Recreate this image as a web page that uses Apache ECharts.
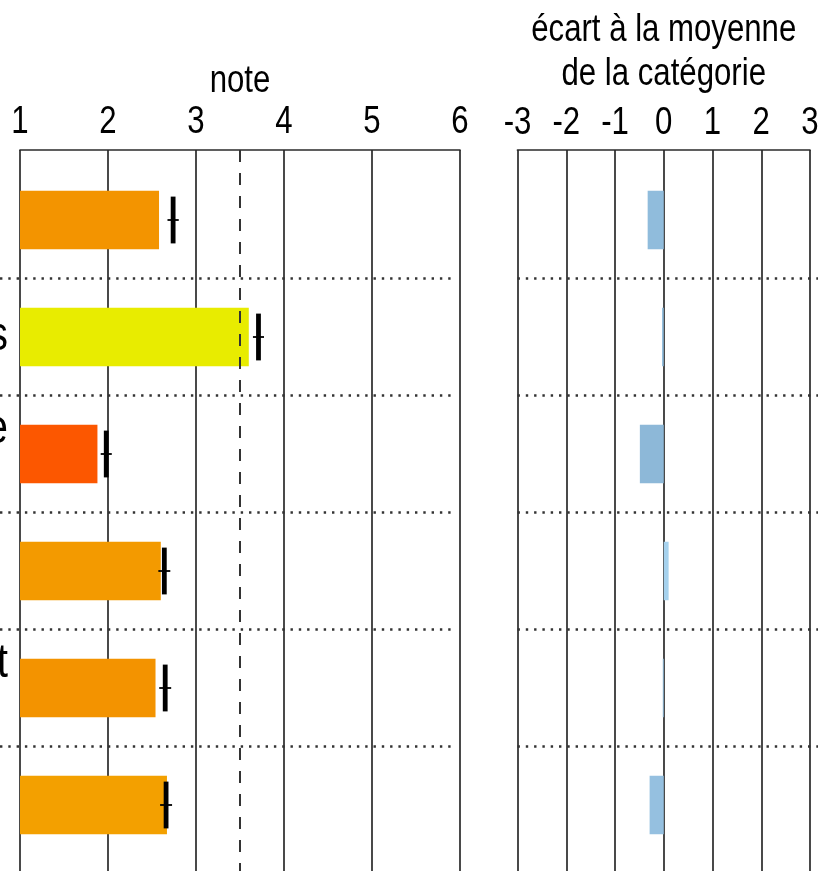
<!DOCTYPE html>
<html><head><meta charset="utf-8">
<script src="https://cdn.jsdelivr.net/npm/echarts@6/dist/echarts.min.js"></script>
<style>html,body{margin:0;padding:0;background:#fff;overflow:hidden}#c{width:822px;height:871px}</style>
</head><body><div id="c"></div>
<script>
// ---- data ----
const rows = [1, 2, 3, 4, 5, 6];
const rowLabels = ['', 's', 'e\n ', '', 't\n ', ''];
const noteValues = [2.58, 3.60, 1.88, 2.60, 2.54, 2.67];
const markValues = [2.74, 3.71, 1.98, 2.64, 2.65, 2.66];
const markHalfWidth = [0.064, 0.063, 0.063, 0.068, 0.068, 0.068];
const barColors = ['#f39400', '#e8ec00', '#fc5700', '#f39a00', '#f39300', '#f3a000'];
const devValues = [-0.33, -0.035, -0.49, 0.10, -0.02, -0.29];
const devColors = ['#90bcdc', '#90bcdc', '#8db8d8', '#a6d2ee', '#90bcdc', '#95c0e0'];
const noteTicks = [1, 2, 3, 4, 5, 6];
const devTicks = [-3, -2, -1, 0, 1, 2, 3];
const refNote = 3.5;
const separators = [1.5, 2.5, 3.5, 4.5, 5.5];
const noteTitle = 'note';
const devTitle = 'écart à la moyenne\nde la catégorie';

// ---- chart ----
const FONT = "'Liberation Sans',Arial,sans-serif";
const NARROW = 0.82; // horizontal condensing of the text
const GRID_LINE = {color: '#2a2a2a', width: 1.7};
const yMin = 0.4017, yMax = 6.5641;

const chart = echarts.init(document.getElementById('c'), null, {renderer: 'canvas'});

function xAxisDef(gi, ticks) {
  return {
    gridIndex: gi, type: 'value', position: 'top',
    min: ticks[0], max: ticks[ticks.length - 1], interval: 1,
    axisLine: {show: true, lineStyle: GRID_LINE},
    axisTick: {show: false},
    axisLabel: {show: false},
    splitLine: {show: true, lineStyle: GRID_LINE}
  };
}
function yAxisDef(gi) {
  return {gridIndex: gi, type: 'value', inverse: true, min: yMin, max: yMax, show: false};
}

function sepRender(x0val, x1val, padL, padR) {
  return function (params, api) {
    const y = api.value(0);
    const a = api.coord([x0val, y]);
    const b = api.coord([x1val, y]);
    return {
      type: 'line',
      shape: {x1: a[0] - padL, y1: a[1], x2: b[0] + padR, y2: b[1]},
      style: {stroke: '#333', lineWidth: 2.4, lineDash: [2.4, 5.9]}
    };
  };
}
function tickLabelRender(dy) {
  return function (params, api) {
    const t = api.value(0);
    const p = api.coord([t, yMin]);
    return {type: 'text', x: p[0], y: p[1] - dy, scaleX: NARROW,
            style: {text: String(t), fontFamily: FONT, fontSize: 38, fill: '#000',
                    align: 'center', verticalAlign: 'middle'}};
  };
}
function titleRender(text, dy) {
  return function (params, api) {
    const v = api.value(0);
    const p = api.coord([v, yMin]);
    return {type: 'text', x: p[0], y: p[1] - dy, scaleX: NARROW,
            style: {text: text, fontFamily: FONT, fontSize: 38, lineHeight: 44, fill: '#000',
                    align: 'center', verticalAlign: 'middle'}};
  };
}

const option = {
  backgroundColor: '#fff',
  animation: false,
  grid: [
    {left: 20, top: 150, width: 440, height: 721, outerBoundsMode: 'none', containLabel: false},
    {left: 517.5, top: 150, width: 292.5, height: 721, outerBoundsMode: 'none', containLabel: false}
  ],
  xAxis: [xAxisDef(0, noteTicks), xAxisDef(1, devTicks)],
  yAxis: [yAxisDef(0), yAxisDef(1)],
  series: [
    { // tick labels left
      type: 'custom', xAxisIndex: 0, yAxisIndex: 0, silent: true, clip: false,
      data: noteTicks.map(t => [t]), encode: {x: 0},
      renderItem: tickLabelRender(27)
    },
    { // tick labels right
      type: 'custom', xAxisIndex: 1, yAxisIndex: 1, silent: true, clip: false,
      data: devTicks.map(t => [t]), encode: {x: 0},
      renderItem: tickLabelRender(26)
    },
    { // title left
      type: 'custom', xAxisIndex: 0, yAxisIndex: 0, silent: true, clip: false,
      data: [[(noteTicks[0] + noteTicks[noteTicks.length - 1]) / 2]], encode: {x: 0},
      renderItem: titleRender(noteTitle, 68)
    },
    { // title right
      type: 'custom', xAxisIndex: 1, yAxisIndex: 1, silent: true, clip: false,
      data: [[(devTicks[0] + devTicks[devTicks.length - 1]) / 2]], encode: {x: 0},
      renderItem: titleRender(devTitle, 97)
    },
    { // separators left
      type: 'custom', xAxisIndex: 0, yAxisIndex: 0, silent: true, z: 1, clip: false,
      data: separators.map(s => [s]),
      encode: {y: 0},
      renderItem: sepRender(noteTicks[0], noteTicks[noteTicks.length - 1], 20, -4)
    },
    { // separators right
      type: 'custom', xAxisIndex: 1, yAxisIndex: 1, silent: true, z: 1, clip: false,
      data: separators.map(s => [s]),
      encode: {y: 0},
      renderItem: sepRender(devTicks[0], devTicks[devTicks.length - 1], 0, 8)
    },
    { // note bars
      type: 'custom', xAxisIndex: 0, yAxisIndex: 0, z: 2,
      data: rows.map((r, i) => [noteValues[i], r, i]),
      encode: {x: 0, y: 1},
      renderItem: function (params, api) {
        const v = api.value(0), r = api.value(1), i = api.value(2);
        const a = api.coord([noteTicks[0], r]);
        const b = api.coord([v, r]);
        const h = api.size([0, 0.5])[1];
        return {type: 'rect', shape: {x: a[0], y: a[1] - h / 2, width: b[0] - a[0], height: h},
                style: {fill: barColors[i]}};
      },
      markLine: {
        silent: true, symbol: 'none', label: {show: false},
        lineStyle: {color: '#333', width: 2, type: [12, 11]},
        data: [{xAxis: refNote}]
      }
    },
    { // mean markers
      type: 'custom', xAxisIndex: 0, yAxisIndex: 0, z: 3,
      data: rows.map((r, i) => [markValues[i], r, markHalfWidth[i]]),
      encode: {x: 0, y: 1},
      renderItem: function (params, api) {
        const v = api.value(0), r = api.value(1), hw = api.value(2);
        const c = api.coord([v, r]);
        const l = api.coord([v - hw, r]);
        const rr = api.coord([v + hw, r]);
        const hh = api.size([0, 0.4])[1] / 2;
        return {type: 'group', children: [
          {type: 'line', shape: {x1: c[0], y1: c[1] - hh, x2: c[0], y2: c[1] + hh},
           style: {stroke: '#000', lineWidth: 4.8}},
          {type: 'line', shape: {x1: l[0], y1: c[1], x2: rr[0], y2: c[1]},
           style: {stroke: '#000', lineWidth: 1.8}}
        ]};
      }
    },
    { // row labels (mostly cut off on the left)
      type: 'custom', xAxisIndex: 0, yAxisIndex: 0, z: 3, silent: true, clip: false,
      data: rows.map((r, i) => [r, i]),
      encode: {y: 0},
      renderItem: function (params, api) {
        const r = api.value(0), i = api.value(1);
        const a = api.coord([noteTicks[0], r]);
        return {type: 'text', x: a[0] - 12, y: a[1], scaleX: NARROW,
                style: {text: rowLabels[i], fontFamily: FONT, fontSize: 48, lineHeight: 49,
                        fill: '#000', align: 'right', verticalAlign: 'middle'}};
      }
    },
    { // deviation bars
      type: 'custom', xAxisIndex: 1, yAxisIndex: 1, z: 2,
      data: rows.map((r, i) => [devValues[i], r, i]),
      encode: {x: 0, y: 1},
      renderItem: function (params, api) {
        const v = api.value(0), r = api.value(1), i = api.value(2);
        const a = api.coord([0, r]);
        const b = api.coord([v, r]);
        const h = api.size([0, 0.5])[1];
        const x = Math.min(a[0], b[0]);
        return {type: 'rect', shape: {x: x, y: a[1] - h / 2, width: Math.abs(b[0] - a[0]), height: h},
                style: {fill: devColors[i]}};
      }
    }
  ]
};
chart.setOption(option);
</script></body></html>
